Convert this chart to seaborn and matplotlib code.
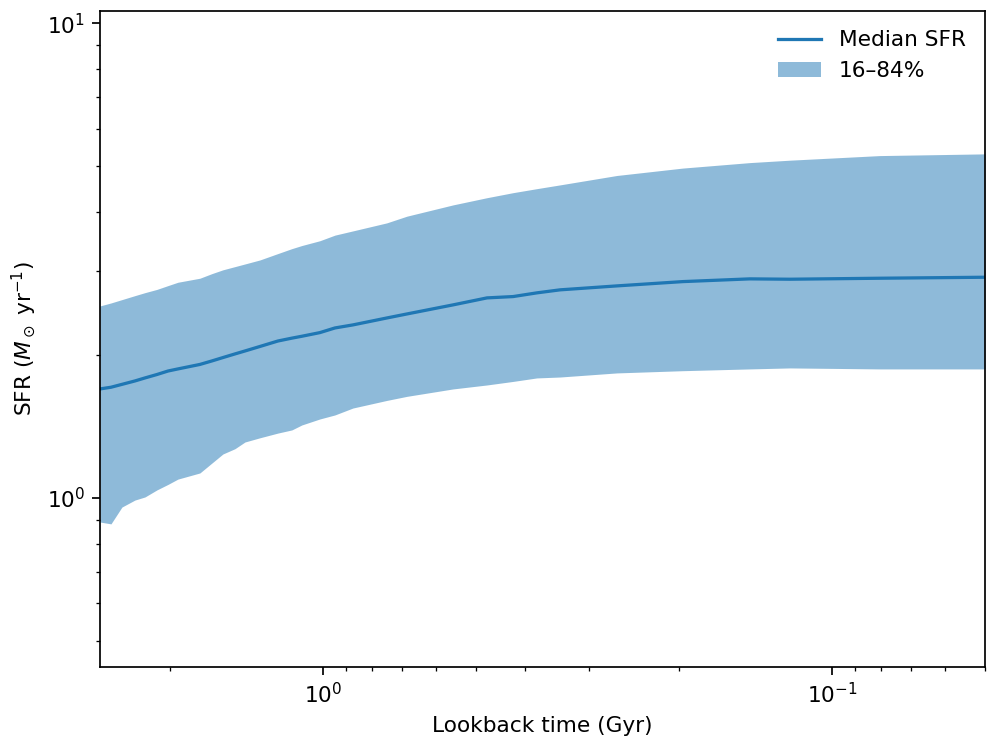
import numpy as np
import pandas as pd
import seaborn as sns
import matplotlib
matplotlib.use("Agg")
import matplotlib.pyplot as plt

# Lookback time grid (Gyr)
lookback_gyr = [2.742, 2.609, 2.483, 2.341, 2.237, 2.119, 2.016, 1.927, 1.745, 1.652,
                1.572, 1.489, 1.423, 1.330, 1.226, 1.151, 1.100, 1.014, 0.947, 0.873,
                0.749, 0.684, 0.555, 0.476, 0.423, 0.380, 0.342, 0.2645, 0.1962, 0.1449,
                0.1209, 0.0805, 0.0500]

# median SFR (Msun/yr)
sfr_median = [1.697, 1.711, 1.735, 1.764, 1.790, 1.820, 1.851, 1.870, 1.911, 1.944,
              1.976, 2.011, 2.040, 2.085, 2.141, 2.171, 2.191, 2.230, 2.281, 2.315,
              2.394, 2.441, 2.551, 2.639, 2.656, 2.704, 2.744, 2.797, 2.856, 2.894,
              2.889, 2.903, 2.917]

# 84th percentile
sfr_p84 = [2.538, 2.575, 2.617, 2.668, 2.707, 2.750, 2.801, 2.847, 2.903, 2.969,
           3.024, 3.071, 3.111, 3.172, 3.272, 3.351, 3.402, 3.482, 3.578, 3.652,
           3.797, 3.922, 4.143, 4.290, 4.396, 4.482, 4.565, 4.778, 4.953, 5.086,
           5.146, 5.262, 5.306]

# 16th percentile
sfr_p16 = [0.890, 0.882, 0.957, 0.990, 1.005, 1.040, 1.068, 1.096, 1.129, 1.185,
           1.238, 1.270, 1.312, 1.339, 1.370, 1.391, 1.425, 1.467, 1.496, 1.547,
           1.605, 1.637, 1.697, 1.730, 1.760, 1.790, 1.798, 1.834, 1.854, 1.870,
           1.879, 1.870, 1.870]

df = pd.DataFrame({"t": lookback_gyr, "median": sfr_median,
                   "lo": sfr_p16, "hi": sfr_p84})

fig, ax = plt.subplots(figsize=(6.4, 4.8), dpi=155.625)
fig.subplots_adjust(left=0.1004, right=0.989, bottom=0.1071, top=0.9853)

sns.lineplot(data=df, x="t", y="median", ax=ax, color="C0", lw=1.5,
             label="Median SFR", sort=False)
ax.fill_between(df["t"], df["lo"], df["hi"], color="C0", alpha=0.5,
                lw=0, label="16\u201384%")

ax.set_xscale("log")
ax.set_yscale("log")
ax.set_xlim(df["t"].max(), df["t"].min())
ax.set_ylim(0.4406, 10.61)

ax.set_xlabel("Lookback time (Gyr)")
ax.set_ylabel(r"SFR ($M_\odot$ yr$^{-1}$)")
ax.legend(loc="upper right", frameon=False)

fig.savefig("out.png", dpi=155.625)
